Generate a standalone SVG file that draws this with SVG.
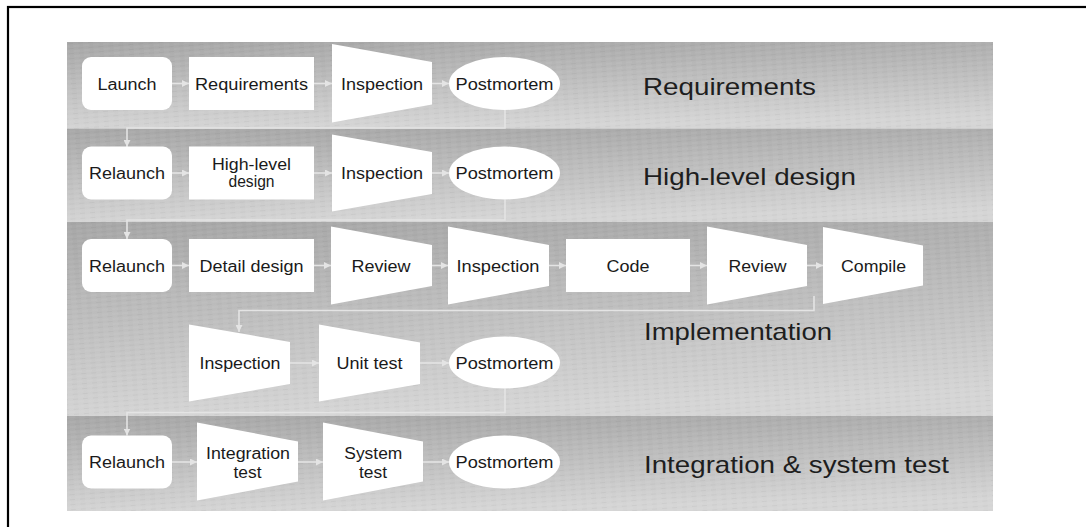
<svg xmlns="http://www.w3.org/2000/svg" width="1086" height="527" viewBox="0 0 1086 527">
  <style>
    .node { fill: #ffffff; stroke: none; }
    .lbl { font-family: "Liberation Sans", Arial, sans-serif; font-size: 16px; fill: #1a1a1a; text-anchor: middle; }
    .phase { font-family: "Liberation Sans", Arial, sans-serif; font-size: 24px; fill: #1e1e1e; }
    .conn { fill: none; stroke: #e4e4e4; stroke-width: 1.6; }
  </style>
  <defs>
    <linearGradient id="band" x1="0" y1="0" x2="0.15" y2="1">
      <stop offset="0" stop-color="#a7a7a7"/>
      <stop offset="1" stop-color="#d5d5d5"/>
    </linearGradient>
    <pattern id="tex" width="10" height="5" patternUnits="userSpaceOnUse" patternTransform="rotate(-4)">
      <line x1="0" y1="1" x2="6" y2="1" stroke="#ffffff" stroke-opacity="0.10" stroke-width="1"/>
      <line x1="5" y1="3.5" x2="10" y2="3.5" stroke="#000000" stroke-opacity="0.04" stroke-width="1"/>
    </pattern>
    <marker id="arr" markerWidth="7" markerHeight="7" refX="7" refY="3.5" orient="auto" markerUnits="userSpaceOnUse">
      <path d="M0,0 L7,3.5 L0,7 z" fill="#e4e4e4"/>
    </marker>
  </defs>

  <rect x="8" y="7" width="1100" height="540" fill="#ffffff" stroke="#000000" stroke-width="2.2"/>

  <g id="bands">
    <rect x="67" y="42" width="926" height="86.5" fill="url(#band)"/>
    <rect x="67" y="42" width="926" height="86.5" fill="url(#tex)"/>
    <rect x="67" y="128.5" width="926" height="93.5" fill="url(#band)"/>
    <rect x="67" y="128.5" width="926" height="93.5" fill="url(#tex)"/>
    <rect x="67" y="222" width="926" height="194" fill="url(#band)"/>
    <rect x="67" y="222" width="926" height="194" fill="url(#tex)"/>
    <rect x="67" y="416" width="926" height="95" fill="url(#band)"/>
    <rect x="67" y="416" width="926" height="95" fill="url(#tex)"/>
  </g>

  <g id="phase-labels">
    <text class="phase" x="643" y="95" textLength="173" lengthAdjust="spacingAndGlyphs">Requirements</text>
    <text class="phase" x="643" y="185" textLength="213" lengthAdjust="spacingAndGlyphs">High-level design</text>
    <text class="phase" x="644" y="340" textLength="188" lengthAdjust="spacingAndGlyphs">Implementation</text>
    <text class="phase" x="644" y="473" textLength="305" lengthAdjust="spacingAndGlyphs">Integration &amp; system test</text>
  </g>

  <g id="connectors">
    <!-- row 1 -->
    <line class="conn" x1="172" y1="83.5" x2="189" y2="83.5" marker-end="url(#arr)"/>
    <line class="conn" x1="314" y1="83.5" x2="332" y2="83.5" marker-end="url(#arr)"/>
    <line class="conn" x1="432" y1="83.5" x2="449" y2="83.5" marker-end="url(#arr)"/>
    <path class="conn" d="M505,110 V128 H127 V147" marker-end="url(#arr)"/>
    <!-- row 2 -->
    <line class="conn" x1="172" y1="173" x2="189" y2="173" marker-end="url(#arr)"/>
    <line class="conn" x1="314" y1="173" x2="332" y2="173" marker-end="url(#arr)"/>
    <line class="conn" x1="432" y1="173" x2="449" y2="173" marker-end="url(#arr)"/>
    <path class="conn" d="M505,199.5 V220 H127 V239" marker-end="url(#arr)"/>
    <!-- row 3 -->
    <line class="conn" x1="172" y1="265.5" x2="189" y2="265.5" marker-end="url(#arr)"/>
    <line class="conn" x1="314" y1="265.5" x2="331" y2="265.5" marker-end="url(#arr)"/>
    <line class="conn" x1="432" y1="265.5" x2="448" y2="265.5" marker-end="url(#arr)"/>
    <line class="conn" x1="549" y1="265.5" x2="566" y2="265.5" marker-end="url(#arr)"/>
    <line class="conn" x1="690" y1="265.5" x2="707" y2="265.5" marker-end="url(#arr)"/>
    <line class="conn" x1="807" y1="265.5" x2="823" y2="265.5" marker-end="url(#arr)"/>
    <path class="conn" d="M814,296 V310.5 H239 V332" marker-end="url(#arr)"/>
    <!-- row 3b -->
    <line class="conn" x1="290" y1="363" x2="319" y2="363" marker-end="url(#arr)"/>
    <line class="conn" x1="420" y1="363" x2="449" y2="363" marker-end="url(#arr)"/>
    <path class="conn" d="M505,388.5 V412.5 H127 V435.5" marker-end="url(#arr)"/>
    <!-- row 4 -->
    <line class="conn" x1="172" y1="462" x2="197" y2="462" marker-end="url(#arr)"/>
    <line class="conn" x1="298" y1="462" x2="323" y2="462" marker-end="url(#arr)"/>
    <line class="conn" x1="423" y1="462" x2="449" y2="462" marker-end="url(#arr)"/>
  </g>

  <!-- Row 1: Requirements -->
  <g id="launch">
    <rect class="node" x="82" y="57" width="90" height="53" rx="9"/>
    <text class="lbl" x="127" y="89.5" textLength="59" lengthAdjust="spacingAndGlyphs">Launch</text>
  </g>
  <g id="requirements">
    <rect class="node" x="189" y="57" width="125" height="53"/>
    <text class="lbl" x="251.5" y="89.5" textLength="113" lengthAdjust="spacingAndGlyphs">Requirements</text>
  </g>
  <g id="req-inspection">
    <polygon class="node" points="332,44 432,62 432,104.5 332,122.5"/>
    <text class="lbl" x="382" y="89.5" textLength="82" lengthAdjust="spacingAndGlyphs">Inspection</text>
  </g>
  <g id="req-postmortem">
    <ellipse class="node" cx="504.5" cy="83.5" rx="55.5" ry="26.5"/>
    <text class="lbl" x="504.5" y="89.5" textLength="98" lengthAdjust="spacingAndGlyphs">Postmortem</text>
  </g>

  <!-- Row 2: High-level design -->
  <g id="hld-relaunch">
    <rect class="node" x="82" y="146.5" width="90" height="53" rx="9"/>
    <text class="lbl" x="127" y="179" textLength="76" lengthAdjust="spacingAndGlyphs">Relaunch</text>
  </g>
  <g id="high-level-design">
    <rect class="node" x="189" y="146.5" width="125" height="53"/>
    <text class="lbl" x="251.5" y="169.5" textLength="79" lengthAdjust="spacingAndGlyphs">High-level</text>
    <text class="lbl" x="251.5" y="187" textLength="46" lengthAdjust="spacingAndGlyphs">design</text>
  </g>
  <g id="hld-inspection">
    <polygon class="node" points="332,134.5 432,152 432,194 332,211.5"/>
    <text class="lbl" x="382" y="179" textLength="82" lengthAdjust="spacingAndGlyphs">Inspection</text>
  </g>
  <g id="hld-postmortem">
    <ellipse class="node" cx="504.5" cy="173" rx="55.5" ry="26.5"/>
    <text class="lbl" x="504.5" y="179" textLength="98" lengthAdjust="spacingAndGlyphs">Postmortem</text>
  </g>

  <!-- Row 3: Implementation -->
  <g id="impl-relaunch">
    <rect class="node" x="82" y="239" width="90" height="53" rx="9"/>
    <text class="lbl" x="127" y="271.5" textLength="76" lengthAdjust="spacingAndGlyphs">Relaunch</text>
  </g>
  <g id="detail-design">
    <rect class="node" x="189" y="239" width="125" height="53"/>
    <text class="lbl" x="251.5" y="271.5" textLength="104" lengthAdjust="spacingAndGlyphs">Detail design</text>
  </g>
  <g id="design-review">
    <polygon class="node" points="331,226.5 432,245 432,286 331,304.5"/>
    <text class="lbl" x="381" y="271.5" textLength="59" lengthAdjust="spacingAndGlyphs">Review</text>
  </g>
  <g id="design-inspection">
    <polygon class="node" points="448,226.5 549,245 549,286 448,304.5"/>
    <text class="lbl" x="498" y="271.5" textLength="83" lengthAdjust="spacingAndGlyphs">Inspection</text>
  </g>
  <g id="code">
    <rect class="node" x="566" y="239" width="124" height="53"/>
    <text class="lbl" x="628" y="271.5" textLength="43" lengthAdjust="spacingAndGlyphs">Code</text>
  </g>
  <g id="code-review">
    <polygon class="node" points="707,226.5 807,245 807,286 707,304.5"/>
    <text class="lbl" x="757.5" y="271.5" textLength="58" lengthAdjust="spacingAndGlyphs">Review</text>
  </g>
  <g id="compile">
    <polygon class="node" points="823,227 923,245.5 923,285.5 823,304"/>
    <text class="lbl" x="873.5" y="271.5" textLength="65" lengthAdjust="spacingAndGlyphs">Compile</text>
  </g>
  <g id="code-inspection">
    <polygon class="node" points="189,324.5 290,342 290,384 189,401.5"/>
    <text class="lbl" x="240" y="369" textLength="81" lengthAdjust="spacingAndGlyphs">Inspection</text>
  </g>
  <g id="unit-test">
    <polygon class="node" points="319,324.5 420,342.5 420,384 319,401.5"/>
    <text class="lbl" x="369.5" y="369" textLength="66" lengthAdjust="spacingAndGlyphs">Unit test</text>
  </g>
  <g id="impl-postmortem">
    <ellipse class="node" cx="504.5" cy="362.5" rx="55.5" ry="26"/>
    <text class="lbl" x="504.5" y="368.5" textLength="98" lengthAdjust="spacingAndGlyphs">Postmortem</text>
  </g>

  <!-- Row 4: Integration & system test -->
  <g id="test-relaunch">
    <rect class="node" x="82" y="435.5" width="90" height="53" rx="9"/>
    <text class="lbl" x="127" y="468" textLength="76" lengthAdjust="spacingAndGlyphs">Relaunch</text>
  </g>
  <g id="integration-test">
    <polygon class="node" points="197,422.5 298,441.5 298,481.5 197,500.5"/>
    <text class="lbl" x="248" y="458.5" textLength="84" lengthAdjust="spacingAndGlyphs">Integration</text>
    <text class="lbl" x="247.5" y="477.5" textLength="28" lengthAdjust="spacingAndGlyphs">test</text>
  </g>
  <g id="system-test">
    <polygon class="node" points="323,422.5 423,441.5 423,481.5 323,500.5"/>
    <text class="lbl" x="373.3" y="458.5" textLength="58" lengthAdjust="spacingAndGlyphs">System</text>
    <text class="lbl" x="373" y="477.5" textLength="28" lengthAdjust="spacingAndGlyphs">test</text>
  </g>
  <g id="test-postmortem">
    <ellipse class="node" cx="504.5" cy="462" rx="55.5" ry="26.5"/>
    <text class="lbl" x="504.5" y="468" textLength="98" lengthAdjust="spacingAndGlyphs">Postmortem</text>
  </g>
</svg>
